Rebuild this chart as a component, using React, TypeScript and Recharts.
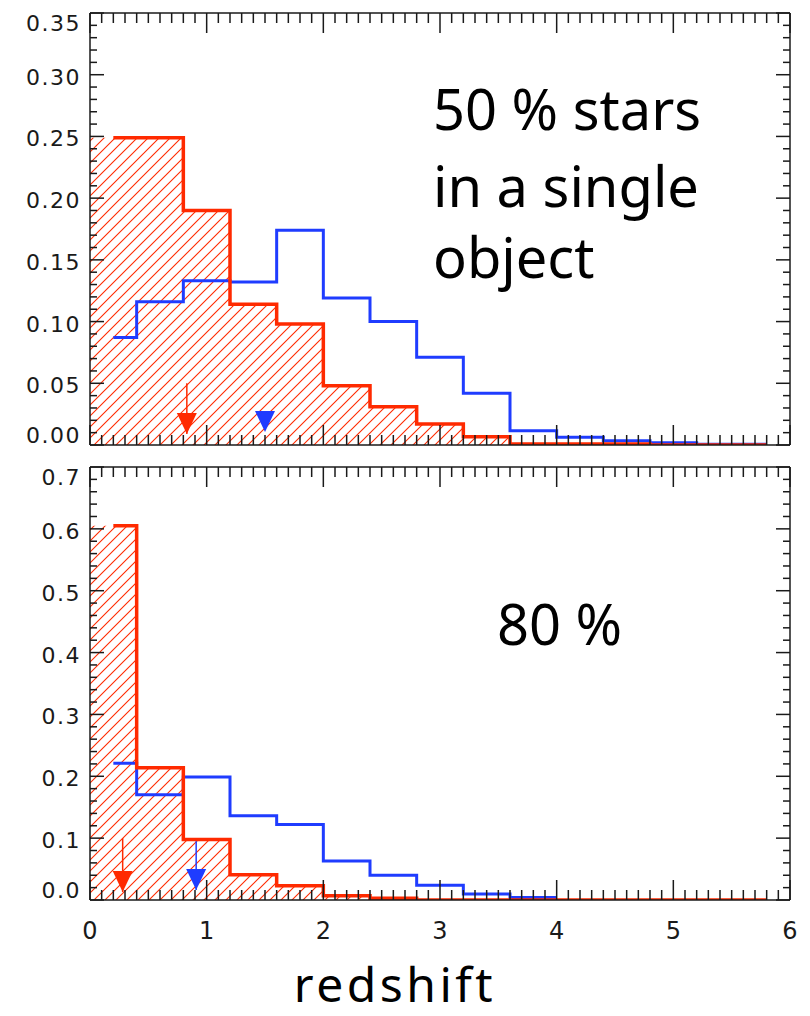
import { ComposedChart, Area, Line, Scatter, XAxis, YAxis, ReferenceLine } from 'recharts'

const RED = '#ff2a00'
const BLUE = '#1f3cff'
const INK = '#1a1a1a'

// histogram bins, width 0.4 in z
const binCenters = [0.2, 0.6, 1.0, 1.4, 1.8, 2.2, 2.6, 3.0, 3.4, 3.8, 4.2, 4.6, 5.0, 5.4, 5.8]

// 50 % of the stars in a single object
const half50Red = [0.249, 0.249, 0.19, 0.114, 0.098, 0.048, 0.031, 0.017, 0.0067, 0.0009, 0.0009, 0.0009, 0, 0, 0]
const half50Blue = [0.087, 0.116, 0.133, 0.132, 0.174, 0.119, 0.1, 0.071, 0.042, 0.0116, 0.0062, 0.0035, 0.0019, 0.0006, 0.0006]

// 80 % (null = empty bin, not drawn)
const most80Red = [0.605, 0.214, 0.098, 0.041, 0.023, 0.007, 0.003, 0, 0, 0, 0, 0, 0, 0, 0]
const most80Blue = [0.221, 0.17, 0.199, 0.136, 0.122, 0.063, 0.04, 0.024, 0.0097, 0.004, null, null, null, null, null]

// median arrows: z, tip of the triangle, top of the stem (null = no stem)
const half50RedArrow = { z: 0.83, tip: 0.009, from: 0.05 }
const half50BlueArrow = { z: 1.5, tip: 0.0105, from: null }
const most80RedArrow = { z: 0.28, tip: 0.013, from: 0.1 }
const most80BlueArrow = { z: 0.91, tip: 0.016, from: 0.095 }

const xTickLabels = ['0', '1', '2', '3', '4', '5', '6']
const half50YLabels = ['0.00', '0.05', '0.10', '0.15', '0.20', '0.25', '0.30', '0.35']
const most80YLabels = ['0.0', '0.1', '0.2', '0.3', '0.4', '0.5', '0.6', '0.7']

const xTicks = Array.from({ length: 61 }, (_, i) => i / 10)

type Arrow = { z: number; tip: number; from: number | null }
type Bins = (number | null)[]

// IDL psym=10 style steps: each bin runs midpoint to midpoint, half-width at the ends
function stepRows(red: Bins, blue: Bins) {
  const rows: Record<string, number | null>[] = [{ z: 0, fill: red[0], red: null, blue: null }]
  rows.push({ z: binCenters[0], fill: red[0], red: red[0], blue: blue[0] })
  for (let k = 1; k < binCenters.length; k++) {
    const edge = (binCenters[k - 1] + binCenters[k]) / 2
    // close the last filled bin at its edge before an empty stretch
    const b = blue[k] === null && blue[k - 1] !== null ? blue[k - 1] : blue[k]
    rows.push({ z: edge, fill: red[k], red: red[k], blue: b })
  }
  const last = binCenters.length - 1
  rows.push({ z: binCenters[last], fill: red[last], red: red[last], blue: blue[last] })
  return rows
}

function XTick({ x, y, index, side, labels }: any) {
  const major = index % 10 === 0
  const len = major ? 20 : 10
  const dir = side === 'top' ? 1 : -1
  return (
    <g>
      <line x1={x} x2={x} y1={y} y2={y + dir * len} stroke={INK} strokeWidth={1.5} />
      {labels && major && (
        <text x={x} y={y + 39} textAnchor="middle" fill={INK} fontSize={24} fontFamily="DejaVu Sans">
          {labels[index / 10]}
        </text>
      )}
    </g>
  )
}

function YTick({ x, y, index, side, labels, count }: any) {
  const major = index % 5 === 0
  const len = major ? 14 : 7
  const dir = side === 'right' ? -1 : 1
  let dy = 10
  if (index === 0) dy = -2
  if (index === count - 1) dy = 18
  return (
    <g>
      <line x1={x} x2={x + dir * len} y1={y} y2={y} stroke={INK} strokeWidth={1.5} />
      {labels && major && (
        <text x={x - 9} y={y + dy} textAnchor="end" fill={INK} fontSize={22} letterSpacing={1.5} fontFamily="DejaVu Sans">
          {labels[index / 5]}
        </text>
      )}
    </g>
  )
}

function Triangle({ cx, cy, fill }: any) {
  return <polygon points={`${cx - 10},${cy - 21} ${cx + 10},${cy - 21} ${cx},${cy}`} fill={fill} />
}

interface PanelProps {
  id: string
  red: Bins
  blue: Bins
  yMax: number
  yStep: number
  yLabels: string[]
  arrows: [Arrow, Arrow]
  height: number
  margin: { top: number; right: number; bottom: number; left: number }
  xLabels?: string[]
}

const frame = { stroke: INK, strokeWidth: 1.5 }

function Panel({ id, red, blue, yMax, yStep, yLabels, arrows, height, margin, xLabels }: PanelProps) {
  const rows = stepRows(red, blue)
  const count = Math.round(yMax / yStep) + 1
  const yTicks = Array.from({ length: count }, (_, i) => Number((i * yStep).toFixed(3)))
  const [redArrow, blueArrow] = arrows

  return (
    <ComposedChart width={810} height={height} data={rows} margin={margin} style={{ overflow: 'visible' }}>
      <defs>
        <pattern id={id} patternUnits="userSpaceOnUse" width={11} height={11}>
          <path d="M-2,2 L2,-2 M0,11 L11,0 M9,13 L13,9" stroke={RED} strokeWidth={1.1} />
        </pattern>
      </defs>
      <XAxis
        dataKey="z"
        type="number"
        domain={[0, 6]}
        ticks={xTicks}
        interval={0}
        allowDataOverflow
        height={1}
        tickSize={0}
        tickMargin={0}
        tickLine={false}
        axisLine={frame}
        tick={<XTick side="bottom" labels={xLabels} />}
      />
      <XAxis
        xAxisId="top"
        orientation="top"
        dataKey="z"
        type="number"
        domain={[0, 6]}
        ticks={xTicks}
        interval={0}
        allowDataOverflow
        height={1}
        tickSize={0}
        tickMargin={0}
        tickLine={false}
        axisLine={frame}
        tick={<XTick side="top" />}
      />
      <YAxis
        type="number"
        domain={[0, yMax]}
        ticks={yTicks}
        interval={0}
        allowDataOverflow
        width={1}
        tickSize={0}
        tickMargin={0}
        tickLine={false}
        axisLine={frame}
        tick={<YTick side="left" labels={yLabels} count={count} />}
      />
      <YAxis
        yAxisId="right"
        orientation="right"
        type="number"
        domain={[0, yMax]}
        ticks={yTicks}
        interval={0}
        allowDataOverflow
        width={1}
        tickSize={0}
        tickMargin={0}
        tickLine={false}
        axisLine={frame}
        tick={<YTick side="right" count={count} />}
      />
      <Area type="stepAfter" dataKey="fill" stroke="none" fill={`url(#${id})`} fillOpacity={1} isAnimationActive={false} />
      <Line type="stepAfter" dataKey="blue" stroke={BLUE} strokeWidth={3} dot={false} isAnimationActive={false} />
      <Line type="stepAfter" dataKey="red" stroke={RED} strokeWidth={3.5} dot={false} isAnimationActive={false} />
      {redArrow.from !== null && (
        <ReferenceLine segment={[{ x: redArrow.z, y: redArrow.from }, { x: redArrow.z, y: redArrow.tip }]} stroke={RED} strokeWidth={1.5} />
      )}
      {blueArrow.from !== null && (
        <ReferenceLine segment={[{ x: blueArrow.z, y: blueArrow.from }, { x: blueArrow.z, y: blueArrow.tip }]} stroke={BLUE} strokeWidth={1.5} />
      )}
      <Scatter data={[{ z: redArrow.z, y: redArrow.tip }]} dataKey="y" fill={RED} shape={<Triangle />} isAnimationActive={false} />
      <Scatter data={[{ z: blueArrow.z, y: blueArrow.tip }]} dataKey="y" fill={BLUE} shape={<Triangle />} isAnimationActive={false} />
    </ComposedChart>
  )
}

export default function App() {
  const bigText = { fontFamily: 'Noto Sans', fontSize: 56, fill: '#000' }
  return (
    <div style={{ position: 'absolute', left: 0, top: 0, width: 810, height: 1016, background: '#fff' }}>
      <div style={{ position: 'absolute', left: 0, top: 0 }}>
        <Panel
          id="hatch50"
          red={half50Red}
          blue={half50Blue}
          yMax={0.35}
          yStep={0.01}
          yLabels={half50YLabels}
          arrows={[half50RedArrow, half50BlueArrow]}
          height={455}
          margin={{ top: 12, right: 19, bottom: 9, left: 89 }}
        />
      </div>
      <div style={{ position: 'absolute', left: 0, top: 455 }}>
        <Panel
          id="hatch80"
          red={most80Red}
          blue={most80Blue}
          yMax={0.7}
          yStep={0.02}
          yLabels={most80YLabels}
          arrows={[most80RedArrow, most80BlueArrow]}
          height={490}
          margin={{ top: 11, right: 19, bottom: 44, left: 89 }}
          xLabels={xTickLabels}
        />
      </div>
      <svg width={810} height={1016} style={{ position: 'absolute', left: 0, top: 0, pointerEvents: 'none' }}>
        <text x={433} y={130} {...bigText}>50 % stars</text>
        <text x={433} y={207} {...bigText}>in a single</text>
        <text x={433} y={278} {...bigText}>object</text>
        <text x={497} y={645} {...bigText}>80 %</text>
        <text x={395} y={1002} textAnchor="middle" fontFamily="Noto Sans" fontSize={48} letterSpacing={3.5} fill="#000">
          redshift
        </text>
      </svg>
    </div>
  )
}
